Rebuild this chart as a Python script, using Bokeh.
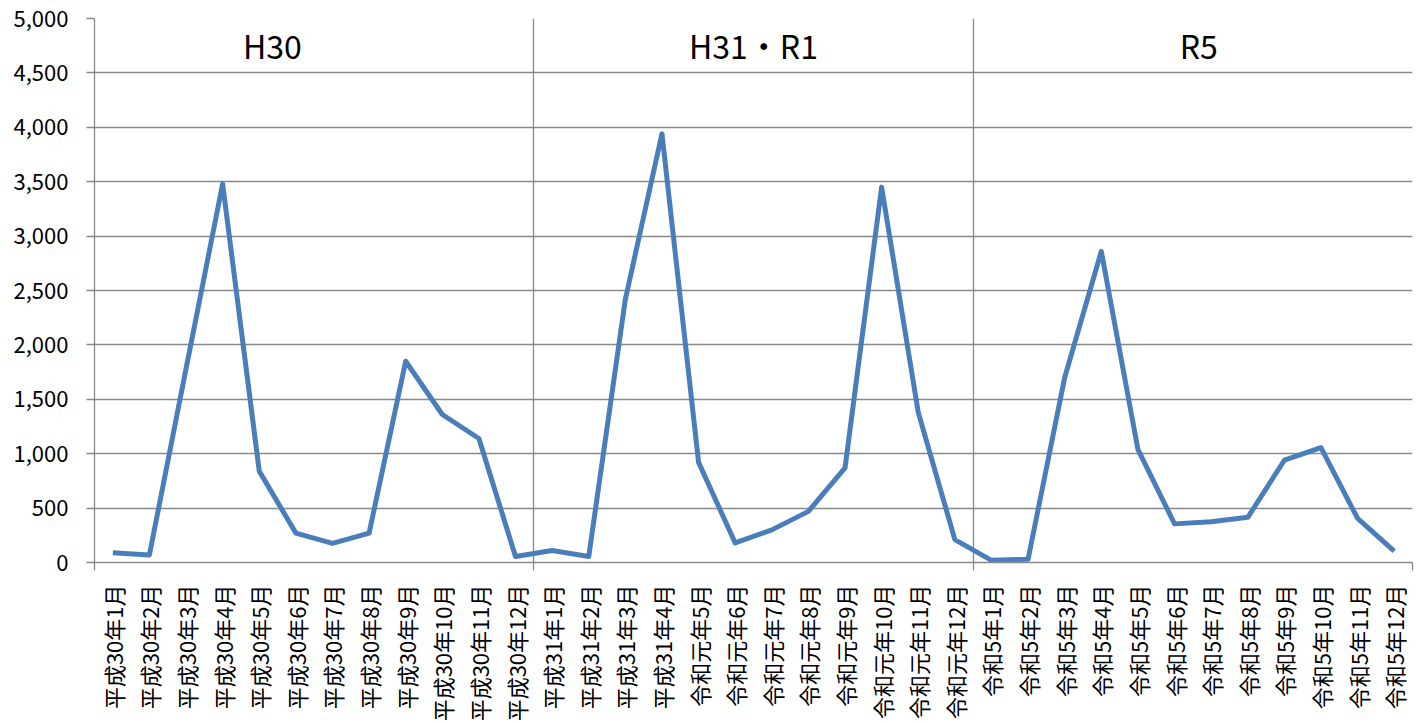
import math
from bokeh.plotting import figure
from bokeh.models import Range1d, FixedTicker, NumeralTickFormatter, ColumnDataSource
from bokeh.core.properties import value
from bokeh.embed import file_html
from bokeh.resources import INLINE

labels_h30 = ["平成30年1月", "平成30年2月", "平成30年3月", "平成30年4月", "平成30年5月", "平成30年6月",
              "平成30年7月", "平成30年8月", "平成30年9月", "平成30年10月", "平成30年11月", "平成30年12月"]
labels_h31 = ["平成31年1月", "平成31年2月", "平成31年3月", "平成31年4月", "令和元年5月", "令和元年6月",
              "令和元年7月", "令和元年8月", "令和元年9月", "令和元年10月", "令和元年11月", "令和元年12月"]
labels_r5 = ["令和5年1月", "令和5年2月", "令和5年3月", "令和5年4月", "令和5年5月", "令和5年6月",
             "令和5年7月", "令和5年8月", "令和5年9月", "令和5年10月", "令和5年11月", "令和5年12月"]

values_h30 = [90, 70, 1780, 3480, 840, 270, 175, 270, 1850, 1360, 1140, 55]
values_h31 = [110, 55, 2420, 3940, 920, 180, 300, 470, 870, 3450, 1380, 210]
values_r5 = [20, 30, 1700, 2860, 1040, 355, 375, 415, 940, 1055, 405, 105]

group_names = ["H30", "H31・R1", "R5"]
group_label_x = [4.36, 17.5, 29.66]
group_label_y = [4752, 4752, 4752]

labels = labels_h30 + labels_h31 + labels_r5
vals = values_h30 + values_h31 + values_r5
xs = list(range(len(labels)))
n_group = len(labels_h30)
boundaries = [n_group * k - 0.5 for k in range(1, 4)]
edges = [-0.5] + boundaries

FONT = "Noto Sans CJK JP"
GRID = "#898989"

p = figure(width=1418, height=724, output_backend="svg", toolbar_location=None,
           x_range=Range1d(-0.5, len(labels) - 0.5), y_range=Range1d(0, 5000),
           min_border_left=94, min_border_right=6, min_border_top=18, min_border_bottom=161)
p.outline_line_color = None
p.background_fill_color = "white"
p.border_fill_color = "white"

# y axis
p.yaxis.ticker = FixedTicker(ticks=list(range(0, 5001, 500)))
p.yaxis.formatter = NumeralTickFormatter(format="0,0")
p.yaxis.major_label_text_font = FONT
p.yaxis.major_label_text_font_size = "22px"
p.yaxis.major_label_text_color = "black"
p.yaxis.axis_line_color = GRID
p.yaxis.axis_line_width = 1.3
p.yaxis.major_tick_line_color = GRID
p.yaxis.major_tick_line_width = 1.3
p.yaxis.major_tick_out = 8
p.yaxis.major_tick_in = 0
p.yaxis.minor_tick_line_color = None
p.yaxis.major_label_standoff = 18

# x axis
p.xaxis.ticker = FixedTicker(ticks=xs, minor_ticks=edges)
p.xaxis.major_label_overrides = {i: lab for i, lab in zip(xs, labels)}
p.xaxis.major_label_orientation = math.pi / 2
p.xaxis.major_label_text_font = FONT
p.xaxis.major_label_text_font_size = "22px"
p.xaxis.major_label_text_color = "black"
p.xaxis.major_tick_line_color = None
p.xaxis.major_tick_out = 0
p.xaxis.major_tick_in = 0
p.xaxis.minor_tick_line_color = GRID
p.xaxis.minor_tick_line_width = 1.3
p.xaxis.minor_tick_out = 8
p.xaxis.minor_tick_in = 0
p.xaxis.axis_line_color = GRID
p.xaxis.axis_line_width = 1.3
p.xaxis.major_label_standoff = 14

# grids
p.ygrid.ticker = FixedTicker(ticks=list(range(500, 5001, 500)))
p.ygrid.grid_line_color = GRID
p.ygrid.grid_line_width = 1.3
p.xgrid.ticker = FixedTicker(ticks=boundaries)
p.xgrid.grid_line_color = GRID
p.xgrid.grid_line_width = 1.3

src = ColumnDataSource(dict(x=xs, y=vals))
p.line("x", "y", source=src, line_color="#4A7EBB", line_width=5, line_join="round")

tsrc = ColumnDataSource(dict(x=group_label_x, y=group_label_y, t=group_names))
p.text("x", "y", text="t", source=tsrc, text_font=value(FONT), text_font_size=value("32px"),
       text_align="center", text_baseline="middle", text_color="black")

open("out.html", "w").write(file_html(p, INLINE))
